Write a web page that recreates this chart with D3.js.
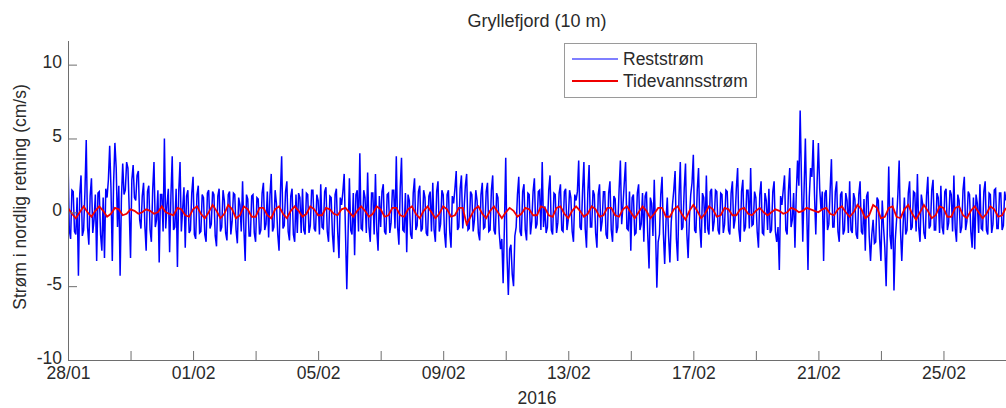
<!DOCTYPE html>
<html>
<head>
<meta charset="utf-8">
<script src="https://cdn.jsdelivr.net/npm/d3@7"></script>
<style>
  html, body { margin: 0; padding: 0; background: #fff; }
  svg { display: block; }
  text { font-family: "Liberation Sans", Arial, sans-serif; fill: #2a2a2a; }
</style>
</head>
<body>
<svg id="chart" width="1006" height="408"></svg>
<script>
// Gryllefjord, 10 m depth: northward current component (cm/s), 28 Jan - 27 Feb 2016
const startDate = new Date(2016, 0, 28);
const endDate = new Date(2016, 1, 27);

// Residual current, hourly values
const restStepHours = 1;
const reststrom = [
  3.7,-1.2,-1.8,1.5,1.4,-1.3,-1.5,1.0,-4.3,1.2,2.5,-1.6,-1.2,1.4,4.9,-1.0,-2.2,1.1,2.3,-1.4,
  -0.5,1.2,-3.3,1.3,1.4,-1.5,-2.6,1.0,-3.1,1.6,1.0,2.2,4.5,1.6,-3.3,2.0,4.7,3.0,-1.0,1.8,
  -4.3,0.9,3.3,1.2,1.5,3.4,3.0,0.2,-3.1,2.2,3.2,1.0,0.8,2.5,2.8,-0.5,-1.1,1.1,2.0,-0.9,
  -2.6,1.4,1.8,-1.2,-2.0,1.5,3.4,-1.0,-0.5,1.5,-3.4,1.2,1.2,-1.3,5.0,-1.1,0.5,1.6,-2.7,1.1,
  3.8,-1.2,-1.0,1.6,-3.7,1.4,3.4,-1.3,0.2,1.7,-2.4,1.1,1.5,-1.4,-1.2,1.3,2.4,-1.5,-1.8,1.2,
  1.8,-1.4,-1.3,1.2,1.0,-1.5,-2.0,1.3,1.5,-1.1,-0.8,1.4,1.2,-1.6,-2.3,1.1,1.6,-1.3,-1.0,1.5,
  0.8,-1.4,-1.9,1.2,1.4,-1.5,-0.6,1.3,1.2,-1.2,-2.1,1.0,0.5,-1.3,2.1,-1.1,-3.3,1.2,0.9,-1.6,
  -1.6,1.1,1.2,-1.4,-2.0,1.0,0.9,-1.5,-1.2,1.3,2.0,-1.2,-0.8,1.4,-1.7,1.1,2.6,-1.3,-1.0,1.5,
  0.6,-1.5,-2.6,1.2,3.8,-1.1,-0.9,1.4,2.1,-1.3,-1.9,1.1,1.6,-1.5,-2.0,1.2,-1.4,1.3,1.0,-1.4,
  1.6,-1.2,-1.5,1.3,1.2,-1.4,-0.9,1.5,1.5,-1.1,-1.3,1.2,0.8,-1.5,1.9,-1.0,-1.1,1.4,1.7,-1.3,
  -2.0,1.1,1.0,-1.5,-2.7,1.2,1.6,-1.3,-3.1,1.0,0.5,1.4,2.6,-1.4,-5.2,-1.4,2.3,-1.2,-1.5,1.3,
  -2.9,1.2,1.5,-1.3,4.0,-1.1,-1.2,1.5,1.0,-1.4,2.7,-1.0,-2.0,1.3,1.3,-1.5,2.6,-1.2,-2.6,1.1,
  -1.0,1.4,1.9,-1.3,-1.5,1.2,1.3,-1.4,-0.7,1.5,1.5,-1.1,3.8,-1.0,-2.2,1.6,3.7,-1.2,-1.3,1.3,
  -2.7,1.2,0.8,-1.5,-1.8,1.3,2.3,-1.2,-0.9,1.4,1.8,-1.3,-1.1,1.5,1.0,-1.4,-1.6,1.1,1.4,-1.3,
  2.0,-1.2,-2.0,1.4,2.1,-1.3,-0.8,1.5,1.2,-1.4,-2.4,1.2,1.5,-1.3,-2.4,1.1,0.6,1.6,2.8,-1.2,
  -1.0,1.6,2.5,-1.1,0.2,1.8,2.6,-1.2,-1.1,1.4,1.2,-1.3,-0.5,1.5,0.8,-1.4,-1.9,1.2,2.0,-1.1,
  -1.0,1.4,2.0,-1.3,-1.2,1.5,2.5,-1.2,-1.5,1.3,1.0,-1.4,-2.5,-1.8,-4.8,-0.9,3.7,-3.0,-5.6,-2.5,
  -2.2,-4.2,-5.0,-1.6,-1.0,1.2,2.4,-1.3,-1.6,1.4,1.9,-1.2,-1.9,1.3,1.2,-1.5,-0.6,1.4,2.3,-1.1,
  -0.8,1.4,1.5,-1.2,3.4,-1.0,0.4,-1.4,-1.0,1.5,2.5,-1.2,-1.5,1.3,1.2,-1.4,-0.7,1.3,1.9,-1.2,
  -1.3,1.4,1.6,-1.2,-0.5,1.5,1.0,-1.3,-2.0,1.2,0.8,1.4,3.5,-1.0,-1.2,1.5,3.4,-1.1,-2.4,1.3,
  3.2,-1.0,-1.0,1.5,1.2,-1.4,-2.4,1.2,1.9,-1.3,-0.6,1.4,1.4,-1.5,-1.8,1.3,2.1,-1.2,-2.0,1.1,
  0.9,-1.4,-1.0,1.5,3.5,-0.8,0.5,2.0,3.4,-1.1,-1.2,1.4,-2.6,1.0,1.2,-1.5,-1.4,1.3,1.9,-1.2,
  -0.8,1.3,-2.0,1.1,1.4,-1.5,-3.8,1.0,0.6,-1.6,2.2,-1.3,-5.1,-2.0,-1.5,1.2,2.4,-1.4,-3.5,-0.6,
  1.0,-1.6,-3.4,-0.7,0.5,1.5,2.8,-1.8,-3.3,1.1,3.4,-1.2,-1.0,1.6,3.3,-1.4,-3.1,-0.4,1.2,2.0,
  3.9,-1.2,-1.4,1.5,3.0,-1.0,-2.4,1.3,1.0,-1.4,2.5,-1.1,-1.5,1.4,1.6,-1.3,-0.6,1.5,1.4,-1.2,
  -1.5,1.3,1.2,-1.4,-0.8,1.5,1.4,-1.2,-1.5,1.3,2.1,-1.1,-0.5,1.6,3.0,-1.2,-2.0,1.4,2.2,-1.3,
  -1.0,1.5,1.5,-1.1,3.0,-0.9,-0.8,1.4,1.0,-1.3,-2.4,1.2,2.1,-1.4,-1.5,1.3,0.8,-1.2,1.6,-1.4,
  -1.2,1.4,2.1,-1.3,-2.0,-1.0,-3.9,1.1,0.5,1.5,2.5,-1.2,-1.5,1.4,3.0,-1.0,-0.5,1.3,-2.4,1.2,
  3.5,1.8,6.9,2.2,-2.0,1.5,5.0,0.4,-3.9,1.0,3.0,2.4,4.9,1.2,-1.5,2.0,4.7,1.6,0.2,1.4,
  -3.3,1.3,1.5,-1.2,-0.8,1.5,3.6,-1.0,-1.0,1.4,2.1,-1.3,-2.0,1.2,1.4,-1.5,-1.2,1.3,0.8,-1.4,
  2.1,-1.2,-1.4,1.3,0.9,-1.5,-1.8,1.2,2.1,-1.3,-1.5,0.9,-2.6,1.1,1.4,-1.6,-3.3,-1.5,-0.5,-2.1,
  -2.0,1.0,0.8,-1.8,-3.3,0.8,-1.0,-2.4,-5.0,-0.8,3.1,-1.6,-2.5,1.0,-5.3,-1.9,-0.5,1.2,3.5,-1.2,
  -3.3,-0.9,1.0,-1.5,-1.2,1.3,2.1,-1.2,-1.0,1.4,1.3,-1.3,2.6,-1.0,-2.0,1.2,0.6,-1.4,-1.8,1.1,
  2.4,-1.1,-0.9,1.5,2.2,-1.2,-1.2,1.3,1.0,-1.4,1.8,-1.0,-1.5,1.4,1.6,-1.2,-0.7,1.5,1.2,-1.3,
  2.5,-1.1,-2.0,1.2,0.8,-1.4,-1.0,1.5,2.4,-1.2,-0.6,1.4,1.2,-1.3,-2.4,1.0,-2.5,1.2,0.6,-1.4,
  1.9,-1.1,-1.2,1.4,2.1,-1.2,-1.5,1.3,1.2,-1.4,-0.8,1.5,1.6,-1.1,-1.1,1.3,1.3,-1.2,-0.9,1.4,
  0.8
];

// Tidal current, one value every 3 hours
const tideStepHours = 3;
const tidevannsstrom = [
  0.3,-0.1,-0.4,0.0,0.4,0.0,-0.3,0.1,
  0.4,0.1,-0.3,-0.1,0.3,0.2,-0.2,-0.1,
  0.2,0.1,-0.1,0.0,0.2,0.1,-0.1,0.0,
  0.4,0.0,-0.1,-0.2,0.3,0.2,-0.2,-0.3,
  0.2,0.4,-0.1,-0.4,0.0,0.5,0.1,-0.4,
  -0.1,0.5,0.2,-0.4,-0.2,0.4,0.2,-0.3,
  -0.3,0.3,0.3,-0.2,-0.4,0.2,0.4,-0.1,
  -0.4,0.1,0.4,0.1,-0.3,-0.1,0.4,0.2,
  -0.2,-0.2,0.3,0.2,-0.1,-0.2,0.2,0.3,
  0.0,-0.3,0.1,0.4,0.1,-0.3,-0.1,0.4,
  0.2,-0.3,-0.2,0.3,0.3,-0.2,-0.3,0.2,
  0.4,-0.1,-0.4,0.1,0.4,0.0,-0.4,-0.1,
  0.4,0.2,-0.3,-0.2,0.3,0.3,-0.8,-0.3,
  0.2,0.4,-0.1,-0.4,0.1,0.4,0.0,-0.4,
  0.0,0.3,0.1,-0.3,-0.1,0.3,0.2,-0.2,
  -0.2,0.4,0.3,-0.2,-0.3,0.3,0.4,-0.1,
  -0.4,0.1,0.4,0.1,-0.3,-0.1,0.4,0.2,
  -0.3,-0.2,0.3,0.3,-0.2,-0.3,0.2,0.4,
  0.0,-0.4,0.0,0.4,0.1,-0.4,-0.1,0.3,
  0.3,-0.3,-0.3,0.2,0.4,-0.1,-0.5,0.1,
  0.5,0.1,-0.4,-0.1,0.4,0.2,-0.3,-0.2,
  0.3,0.2,-0.2,-0.2,0.2,0.3,-0.1,-0.2,
  0.1,0.3,0.0,-0.2,0.0,0.2,0.1,-0.1,
  0.0,0.3,0.2,0.0,0.1,0.3,0.2,0.1,
  0.0,0.2,0.3,-0.1,-0.2,0.2,0.4,0.0,
  -0.3,0.0,0.5,0.2,-0.4,-0.2,0.5,0.3,
  -0.4,-0.3,0.3,0.4,-0.3,-0.4,0.2,0.5,
  -0.1,-0.5,0.0,0.5,0.1,-0.4,-0.2,0.4,
  0.3,-0.3,-0.3,0.3,0.4,-0.2,-0.4,0.1,
  0.4,0.0,-0.4,-0.1,0.4,0.2,-0.3,-0.2,
  0.3
];

const yTicks = [-10, -5, 0, 5, 10];
const xTickDates = ["28/01","30/01","01/02","03/02","05/02","07/02","09/02","11/02",
                    "13/02","15/02","17/02","19/02","21/02","23/02","25/02"];
const xTickLabels = ["28/01","01/02","05/02","09/02","13/02","17/02","21/02","25/02"];
const seriesNames = ["Reststrøm", "Tidevannsstrøm"];

(function draw() {
  const svg = d3.select("#chart");
  const plotLeft = 68, plotRight = 1006, plotTop = 41, plotBottom = 360;

  const x = d3.scaleTime().domain([startDate, endDate]).range([plotLeft, plotRight]);
  const y = d3.scaleLinear().domain([-10, 11.6]).range([plotBottom, plotTop]);

  const HOUR = 3600 * 1000;
  const toPoints = (vals, step) => vals.map((v, i) => ({ t: new Date(startDate.getTime() + i * step * HOUR), v }));
  const parseDM = s => { const [d, m] = s.split("/").map(Number); return new Date(2016, m - 1, d); };

  const line = d3.line().x(d => x(d.t)).y(d => y(d.v));

  // clip to plot area
  svg.append("clipPath").attr("id", "plotclip")
    .append("rect").attr("x", plotLeft).attr("y", plotTop)
    .attr("width", plotRight - plotLeft).attr("height", plotBottom - plotTop);

  const plot = svg.append("g").attr("clip-path", "url(#plotclip)");
  plot.append("path").datum(toPoints(reststrom, restStepHours))
    .attr("d", line).attr("fill", "none").attr("stroke", "#0000ff").attr("stroke-width", 1.5);
  plot.append("path").datum(toPoints(tidevannsstrom, tideStepHours))
    .attr("d", line).attr("fill", "none").attr("stroke", "#f00000").attr("stroke-width", 1.8);

  // axes
  const axisColor = "#6e6e6e";
  const tickLen = 9;
  const fmt = d3.timeFormat("%d/%m");
  const xAxis = d3.axisBottom(x)
    .tickValues(xTickDates.map(parseDM))
    .tickSize(-tickLen)
    .tickFormat(d => { const s = fmt(d); return xTickLabels.includes(s) ? s : ""; });
  const gx = svg.append("g").attr("transform", `translate(0,${plotBottom})`).call(xAxis);
  gx.select(".domain").attr("d", `M${plotLeft},0.5H${plotRight}`).attr("stroke", axisColor);
  gx.selectAll(".tick line").attr("stroke", axisColor);
  gx.selectAll(".tick text").attr("dy", null).attr("y", 18.5).style("font-size", "17.5px")
    .attr("fill", "#2a2a2a").style("font-family", "Liberation Sans, Arial, sans-serif");

  const yAxis = d3.axisLeft(y).tickValues(yTicks).tickSize(-tickLen).tickFormat(d => String(d));
  const gy = svg.append("g").attr("transform", `translate(${plotLeft},0)`).call(yAxis);
  gy.select(".domain").attr("d", `M0.5,${plotTop}V${plotBottom}`).attr("stroke", axisColor);
  gy.selectAll(".tick line").attr("stroke", axisColor);
  gy.selectAll(".tick text").attr("x", -6).attr("dy", "0.18em").style("font-size", "17.5px")
    .attr("fill", "#2a2a2a").style("font-family", "Liberation Sans, Arial, sans-serif");

  // title and labels
  svg.append("text").attr("x", (plotLeft + plotRight) / 2).attr("y", 27)
    .attr("text-anchor", "middle").style("font-size", "18px").text("Gryllefjord (10 m)");
  svg.append("text").attr("x", (plotLeft + plotRight) / 2).attr("y", 404)
    .attr("text-anchor", "middle").style("font-size", "17.5px").text("2016");
  svg.append("text").attr("transform", "translate(26,197) rotate(-90)")
    .attr("text-anchor", "middle").style("font-size", "17.5px").text("Strøm i nordlig retning (cm/s)");

  // legend
  const lg = svg.append("g");
  lg.append("rect").attr("x", 564.5).attr("y", 43.5).attr("width", 192).attr("height", 54)
    .attr("fill", "#fff").attr("stroke", "#9a9a9a");
  const legendColors = ["#0000ff", "#f00000"];
  const legendWidths = [1.1, 2];
  seriesNames.forEach((name, i) => {
    const ly = 59 + i * 22;
    lg.append("line").attr("x1", 572).attr("x2", 618).attr("y1", ly).attr("y2", ly)
      .attr("stroke", legendColors[i]).attr("stroke-width", legendWidths[i]);
    lg.append("text").attr("x", 623).attr("y", ly + 6).style("font-size", "17.5px").text(name);
  });
})();
</script>
</body>
</html>
